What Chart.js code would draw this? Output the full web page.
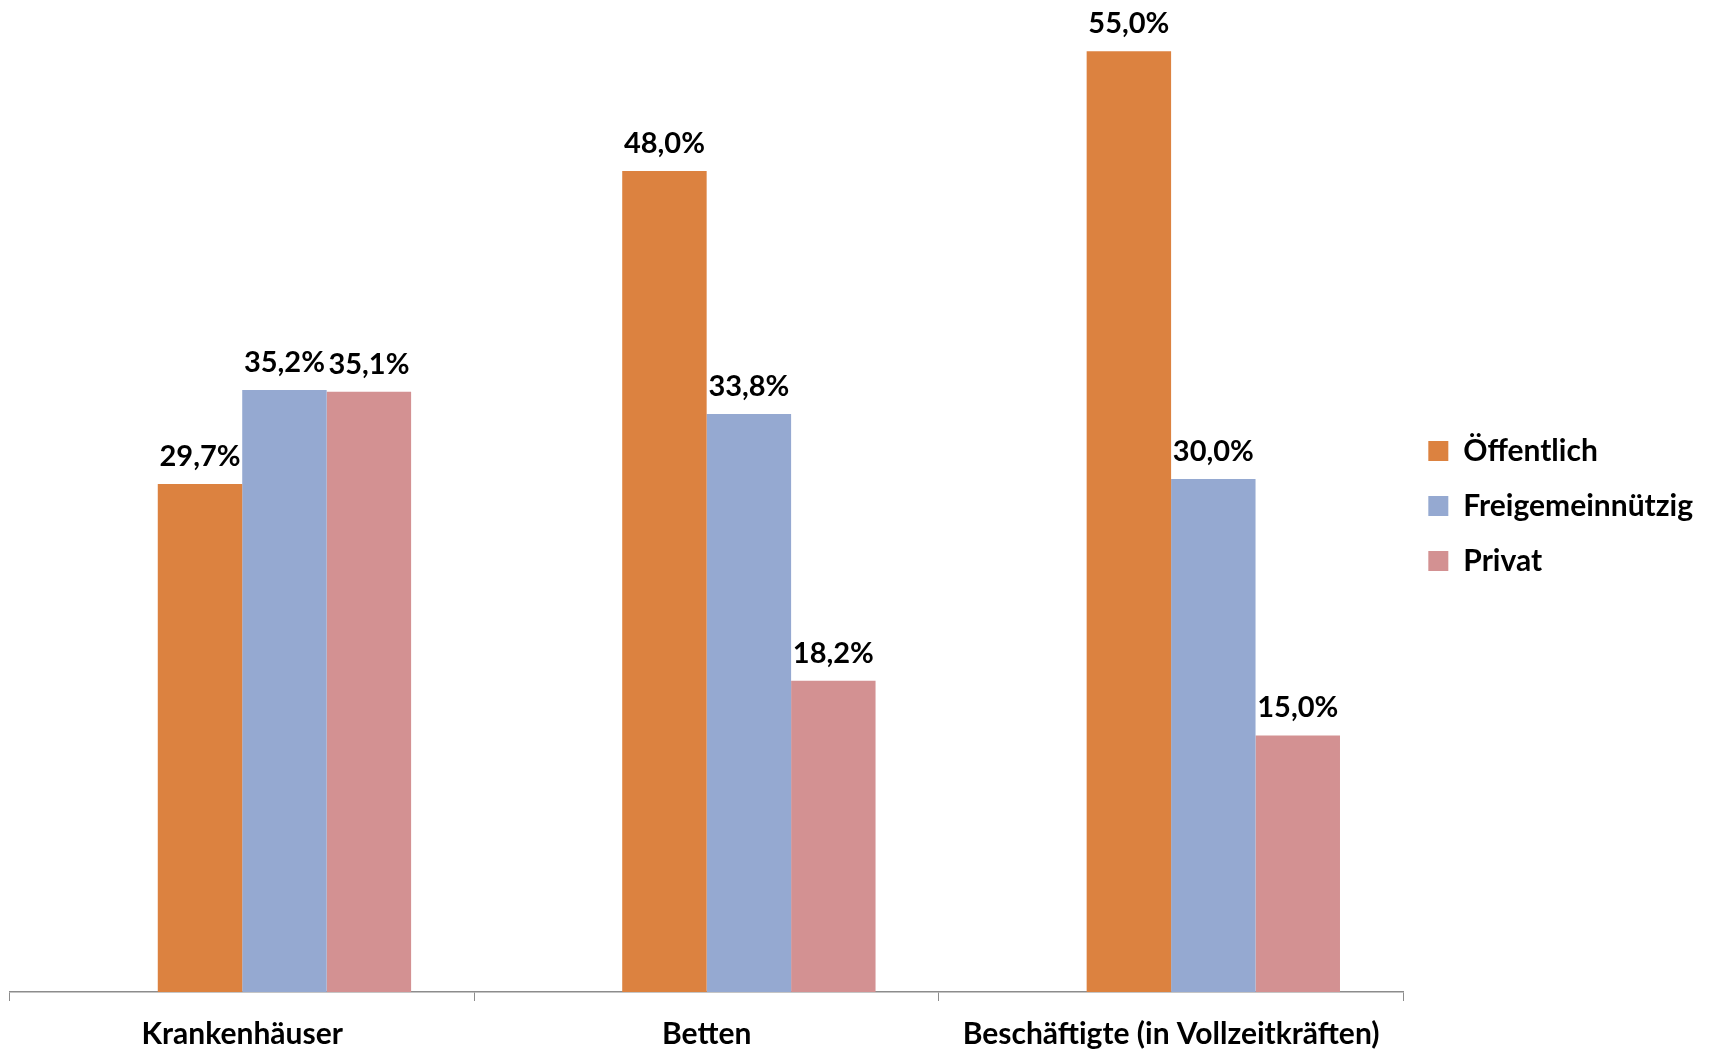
<!DOCTYPE html>
<html>
<head>
<meta charset="utf-8">
<script src="https://cdn.jsdelivr.net/npm/chart.js@4/dist/chart.umd.min.js"></script>
<style>
  html, body { margin: 0; padding: 0; background: #fff; }
  #wrap { width: 1724px; height: 1051px; }
</style>
</head>
<body>
<div id="wrap"><canvas id="chart" width="1724" height="1051"></canvas></div>
<script>
// Anteile nach Trägerschaft (in %)
const categories = ['Krankenhäuser', 'Betten', 'Beschäftigte (in Vollzeitkräften)'];
const oeffentlich = [29.7, 48.0, 55.0];
const freigemeinnuetzig = [35.2, 33.8, 30.0];
const privat = [35.1, 18.2, 15.0];
// leere Reihe, hält den ersten Platz jeder Gruppe frei
const leer = [null, null, null];

const FONT = 'Lato, "Open Sans", sans-serif';
const labelSize = 30;
const valueSize = 29;

// Werte über den Balken, z.B. "48,0%"
const valueLabels = {
  id: 'valueLabels',
  afterDatasetsDraw(chart) {
    const ctx = chart.ctx;
    ctx.save();
    ctx.font = 'bold ' + valueSize + 'px ' + FONT;
    ctx.fillStyle = '#000';
    ctx.textAlign = 'center';
    ctx.textBaseline = 'bottom';
    chart.data.datasets.forEach(function(ds, i) {
      if (!ds.label) return;
      chart.getDatasetMeta(i).data.forEach(function(bar, j) {
        var v = ds.data[j];
        if (v == null) return;
        ctx.fillText(v.toFixed(1).replace('.', ',') + '%', bar.x, bar.y - 13);
      });
    });
    ctx.restore();
  }
};

new Chart(document.getElementById('chart'), {
  type: 'bar',
  data: {
    labels: categories,
    datasets: [
      { label: '', data: leer },
      { label: 'Öffentlich', data: oeffentlich, backgroundColor: '#DC8240' },
      { label: 'Freigemeinnützig', data: freigemeinnuetzig, backgroundColor: '#95A9D1' },
      { label: 'Privat', data: privat, backgroundColor: '#D39192' }
    ]
  },
  options: {
    responsive: false,
    animation: false,
    layout: { padding: { left: 10, top: 0, right: 21, bottom: -16 } },
    datasets: {
      bar: { categoryPercentage: 4 / 5.5, barPercentage: 1 }
    },
    scales: {
      x: {
        grid: {
          display: true,
          offset: true,
          drawOnChartArea: false,
          drawTicks: true,
          tickLength: 9,
          color: '#8c8c8c'
        },
        border: { display: true, color: '#8c8c8c', width: 1.5 },
        ticks: {
          color: '#000',
          padding: 18,
          font: { family: FONT, size: labelSize, weight: 'bold', lineHeight: 1 }
        }
      },
      y: {
        display: false,
        min: 0,
        max: 58
      }
    },
    plugins: {
      tooltip: { enabled: false },
      legend: {
        position: 'right',
        align: 'center',
        fullSize: false,
        title: { display: true, text: '', padding: { top: 20, bottom: 0 }, font: { size: 0, lineHeight: 0 } },
        labels: {
          color: '#000',
          boxWidth: 20,
          boxHeight: 20,
          padding: 25,
          font: { family: FONT, size: labelSize, weight: 'bold' },
          filter: function(item) { return item.text !== ''; }
        }
      }
    }
  },
  plugins: [valueLabels]
});
</script>
</body>
</html>
